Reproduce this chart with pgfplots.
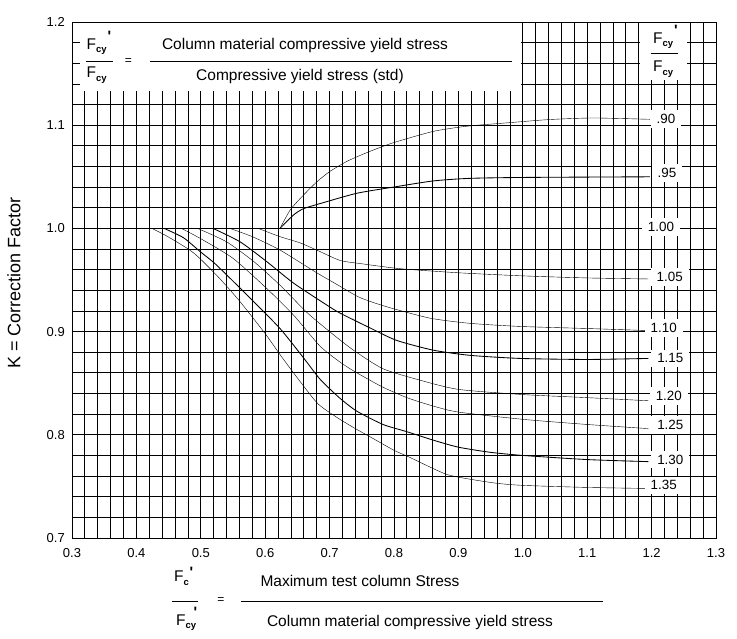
\documentclass[border=0pt]{standalone}
\usepackage{fontspec}
\setmainfont{Liberation Sans}
\usepackage{pgfplots}
\pgfplotsset{compat=1.18}

\newcommand{\fs}[1]{\fontsize{#1}{#1}\selectfont}
\newcommand{\Fsub}[1]{F\raisebox{-3.5pt}{\fs{9.5}\bfseries #1}}
\newcommand{\prm}{{\fs{15}\bfseries\textquotesingle}}

\begin{document}
\begin{tikzpicture}
\begin{axis}[
  at={(0,0)}, anchor=south west,
  scale only axis, width=644pt, height=516pt,
  xmin=0.3, xmax=1.3, ymin=0.7, ymax=1.2,
  xtick={0.3,0.4,0.5,0.6,0.7,0.8,0.9,1.0,1.1,1.2,1.3},
  ytick={0.7,0.8,0.9,1.0,1.1,1.2},
  minor x tick num=4, minor y tick num=4,
  grid=both,
  major grid style={black, line width=0.8pt},
  minor grid style={black, line width=0.8pt},
  major tick length=0pt, minor tick length=0pt,
  axis line style={black, line width=0.8pt},
  /pgf/number format/assume math mode=true,
  /pgf/number format/fixed, /pgf/number format/fixed zerofill,
  /pgf/number format/precision=1,
  ticklabel style={font=\fs{13}},
  xticklabel style={anchor=north, inner sep=0pt, yshift=-10pt},
  yticklabel style={anchor=east, inner sep=0pt, xshift=-7pt},
  cycle list={{black, solid, line width=0.85pt}},
  no markers,
  every axis plot/.append style={smooth, tension=0.4},
]
% K = 1.00 reference
\addplot[black, line width=1.6pt, sharp plot] coordinates {(0.3,1.0) (1.3,1.0)};
% 0.90
\addplot coordinates {(0.623,1.000) (0.639,1.018) (0.659,1.032) (0.680,1.045) (0.700,1.055)
  (0.727,1.065) (0.760,1.074) (0.799,1.083) (0.861,1.094) (0.913,1.099) (0.980,1.1025)
  (1.042,1.1055) (1.109,1.107) (1.1975,1.1057)};
% 0.95
\addplot coordinates {(0.623,1.000) (0.644,1.013) (0.659,1.019) (0.685,1.024) (0.742,1.034)
  (0.799,1.040) (0.861,1.046) (0.918,1.0485) (1.006,1.0494) (1.1975,1.050)};
% 1.05
\addplot coordinates {(0.589,1.000) (0.623,0.992) (0.654,0.986) (0.680,0.979) (0.716,0.969)
  (0.747,0.966) (0.809,0.961) (0.900,0.957) (1.000,0.954) (1.100,0.952) (1.195,0.951)};
% 1.10
\addplot coordinates {(0.545,1.000) (0.580,0.992) (0.623,0.979) (0.680,0.957) (0.716,0.944)
  (0.747,0.933) (0.789,0.924) (0.856,0.913) (0.918,0.908) (0.996,0.905) (1.100,0.903) (1.195,0.901)};
% 1.15
\addplot coordinates {(0.519,1.000) (0.561,0.987) (0.602,0.968) (0.644,0.947) (0.695,0.926)
  (0.716,0.918) (0.763,0.9035) (0.804,0.8915) (0.861,0.882) (0.918,0.877) (0.996,0.874)
  (1.100,0.873) (1.195,0.874)};
% 1.20
\addplot coordinates {(0.495,1.000) (0.540,0.987) (0.582,0.968) (0.623,0.945) (0.664,0.919)
  (0.700,0.900) (0.737,0.882) (0.783,0.864) (0.840,0.853) (0.900,0.844) (1.000,0.839)
  (1.100,0.836) (1.195,0.833)};
% 1.25
\addplot coordinates {(0.470,1.000) (0.500,0.990) (0.550,0.971) (0.602,0.942) (0.644,0.916)
  (0.685,0.886) (0.715,0.871) (0.737,0.862) (0.780,0.847) (0.820,0.836) (0.860,0.828)
  (0.900,0.822) (1.000,0.815) (1.100,0.810) (1.195,0.806)};
% 1.30
\addplot coordinates {(0.443,1.000) (0.473,0.991) (0.500,0.977) (0.520,0.967) (0.545,0.952)
  (0.582,0.929) (0.623,0.903) (0.659,0.875) (0.685,0.854) (0.715,0.836) (0.742,0.823)
  (0.783,0.810) (0.820,0.803) (0.860,0.795) (0.900,0.788) (0.950,0.783) (1.000,0.780)
  (1.100,0.776) (1.195,0.774)};
% 1.35
\addplot coordinates {(0.424,1.000) (0.440,0.995) (0.457,0.989) (0.483,0.979) (0.500,0.970)
  (0.530,0.951) (0.561,0.929) (0.600,0.898) (0.625,0.876) (0.655,0.851) (0.682,0.830)
  (0.711,0.817) (0.740,0.806) (0.763,0.798) (0.800,0.785) (0.825,0.778) (0.880,0.762)
  (0.918,0.757) (0.960,0.753) (1.000,0.751) (1.100,0.749) (1.195,0.748)};
\end{axis}

% annotations, placed in picture pixels
\begin{scope}[x=1pt, y=-1pt, shift={(-72pt,538pt)}]
  \node[rotate=90, font=\fs{18}] at (14,283) {K = Correction Factor};

  % top-left definition
  \fill[white] (80,23.5) rectangle (520.5,91.5);
  \node[anchor=base west, inner sep=0pt, font=\fs{15.5}] at (86.5,49.3) {\Fsub{cy}};
  \node[inner sep=0pt] at (109.5,36) {\prm};
  \draw[line width=0.8pt] (86,61.7) -- (113,61.7);
  \node[anchor=base west, inner sep=0pt, font=\fs{15.5}] at (86.5,77.7) {\Fsub{cy}};
  \node[inner sep=0pt, font=\fs{12}] at (128.5,62) {=};
  \draw[line width=0.8pt] (150,61.7) -- (512,61.7);
  \node[anchor=base, inner sep=0pt, font=\fs{15.5}] at (305,49.3) {Column material compressive yield stress};
  \node[anchor=base, inner sep=0pt, font=\fs{15.5}] at (300,80.5) {Compressive yield stress (std)};

  % top-right header
  \fill[white] (640,23.5) rectangle (687,80);
  \node[anchor=base west, inner sep=0pt, font=\fs{15.5}] at (653,43.3) {\Fsub{cy}};
  \node[inner sep=0pt] at (676,30) {\prm};
  \draw[line width=0.8pt] (650.7,53.3) -- (678.3,53.3);
  \node[anchor=base west, inner sep=0pt, font=\fs{15.5}] at (653,71.7) {\Fsub{cy}};

  % curve labels
  \tikzset{lab/.style={fill=white, inner xsep=6pt, inner ysep=4pt, font=\fs{13.4}}}
  \node[lab] at (666,119) {.90};
  \node[lab] at (667,173) {.95};
  \node[lab] at (661,227) {1.00};
  \node[lab] at (669.7,277) {1.05};
  \node[lab] at (663.7,328) {1.10};
  \node[lab] at (670.3,358.3) {1.15};
  \node[lab] at (668.8,396) {1.20};
  \node[lab] at (670.3,424.8) {1.25};
  \node[lab] at (670.3,459.5) {1.30};
  \node[lab] at (663.7,485.3) {1.35};

  % bottom definition
  \node[anchor=base west, inner sep=0pt, font=\fs{15.5}] at (174,581.7) {\Fsub{c}};
  \node[inner sep=0pt] at (191.5,572) {\prm};
  \draw[line width=0.8pt] (171.6,601.7) -- (197.5,601.7);
  \node[anchor=base west, inner sep=0pt, font=\fs{15.5}] at (176,625) {\Fsub{cy}};
  \node[inner sep=0pt] at (195.5,612) {\prm};
  \node[inner sep=0pt, font=\fs{12}] at (221,601) {=};
  \draw[line width=0.8pt] (241,601.7) -- (603,601.7);
  \node[anchor=base, inner sep=0pt, font=\fs{15.5}] at (360,586.7) {Maximum test column Stress};
  \node[anchor=base, inner sep=0pt, font=\fs{15.5}] at (410,626) {Column material compressive yield stress};
\end{scope}

\pgfresetboundingbox
\path[use as bounding box] (-72pt,-100pt) rectangle (665pt,538pt);
\end{tikzpicture}
\end{document}
